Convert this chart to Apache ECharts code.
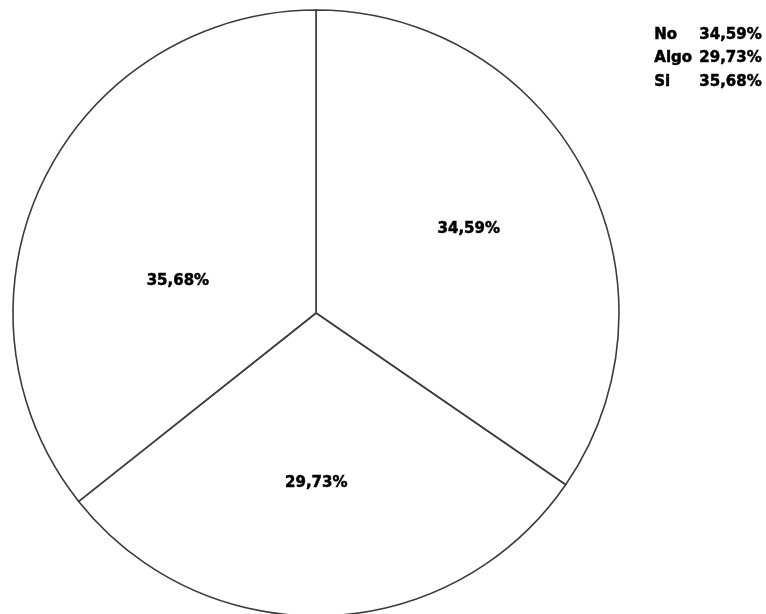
<!DOCTYPE html>
<html>
<head>
<meta charset="utf-8">
<script src="https://cdn.jsdelivr.net/npm/echarts@6/dist/echarts.min.js"></script>
<style>
  html, body { margin: 0; padding: 0; background: #fff; }
  #chart { width: 766px; height: 614px; }
</style>
</head>
<body>
<div id="chart"></div>
<script>
// Respuestas y porcentajes
const categories = ['No', 'Algo', 'Si'];
const percents = [34.59, 29.73, 35.68];

// Desplazamiento de cada etiqueta interior respecto a su posición por defecto
const labelShift = [[16, -12], [-5, 16], [1, 35]];

const fmt = v => v.toFixed(2).replace('.', ',') + '%';
const FONT = 'DejaVu Sans';

// Texto en negrita algo más grueso
const heavy = { fontFamily: FONT, fontWeight: 'bold', fontSize: 15, color: '#000',
                textBorderColor: '#000', textBorderWidth: 0.5 };

const chart = echarts.init(document.getElementById('chart'), null, { renderer: 'canvas' });

chart.setOption({
  animation: false,
  backgroundColor: '#ffffff',
  legend: {
    orient: 'vertical',
    right: 4,
    top: 27,
    padding: 0,
    icon: 'none',
    itemWidth: 0,
    itemHeight: 0,
    itemGap: 8,
    selectedMode: false,
    data: categories,
    formatter: name => {
      const i = categories.indexOf(name);
      return '{n|' + name + '}{v|' + fmt(percents[i]) + '}';
    },
    textStyle: {
      rich: {
        n: Object.assign({ width: 45, lineHeight: 15 }, heavy),
        v: Object.assign({ lineHeight: 15 }, heavy)
      }
    }
  },
  series: [{
    type: 'pie',
    center: [316, 313],
    radius: [0, 303],
    startAngle: 90,
    clockwise: true,
    silent: true,
    itemStyle: { color: '#ffffff', borderColor: '#3c3c3c', borderWidth: 1.6 },
    label: Object.assign({
      show: true,
      position: 'inside',
      formatter: p => fmt(p.value)
    }, heavy),
    labelLine: { show: false },
    labelLayout: p => ({ dx: labelShift[p.dataIndex][0], dy: labelShift[p.dataIndex][1] }),
    data: categories.map((c, i) => ({ name: c, value: percents[i] }))
  }]
});
</script>
</body>
</html>
